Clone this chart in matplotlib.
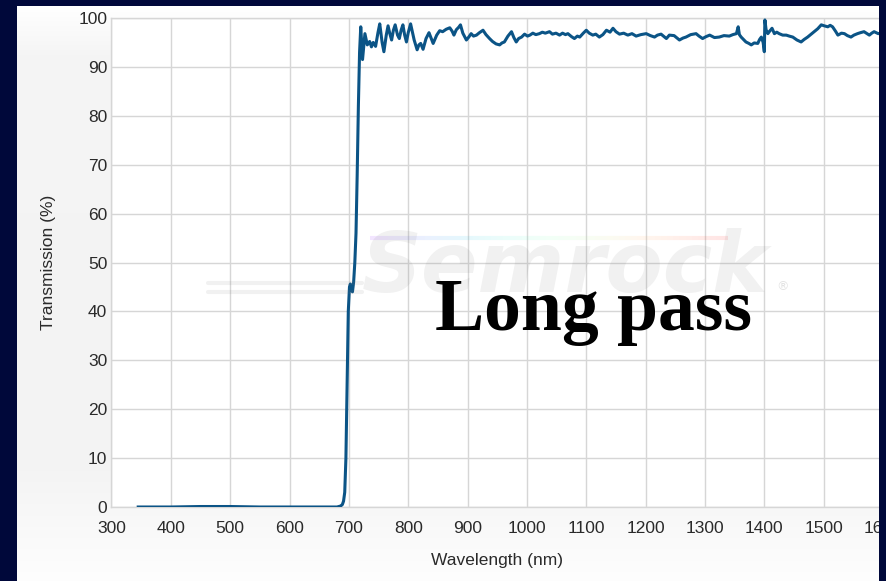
import numpy as np
import matplotlib
matplotlib.use("Agg")
import matplotlib.pyplot as plt
from matplotlib.patches import Rectangle
from matplotlib.collections import LineCollection

# Long-pass filter transmission spectrum
wavelength_nm = [
    345, 400, 450, 500, 550, 600, 650, 680, 686, 689, 691, 693, 695, 697, 699,
    701, 702.5, 704, 706, 708, 710, 712, 714, 716, 718, 720, 723, 727, 731, 735,
    738, 741, 745, 749, 752, 756, 759, 763, 766, 769, 772, 775, 778, 782, 785,
    788, 791, 794, 797, 800, 804, 810, 815, 818, 821, 825, 830, 835, 842, 848,
    853, 858, 864, 870, 874, 877, 881, 885, 888, 892, 898, 902, 906, 910, 915,
    920, 926, 931, 937, 942, 948, 954, 958, 962, 968, 974, 978, 982, 986, 991,
    996, 1001, 1005, 1010, 1015, 1021, 1026, 1031, 1038, 1043, 1049, 1055, 1060,
    1065, 1069, 1075, 1080, 1085, 1089, 1095, 1100, 1105, 1111, 1116, 1122,
    1128, 1134, 1140, 1145, 1150, 1156, 1163, 1170, 1177, 1184, 1192, 1201,
    1208, 1215, 1220, 1226, 1231, 1235, 1240, 1248, 1257, 1263, 1268, 1276,
    1285, 1290, 1296, 1302, 1308, 1316, 1324, 1332, 1341, 1347, 1353, 1356,
    1358, 1361, 1365, 1369, 1374, 1378, 1383, 1389, 1392, 1395, 1398, 1400,
    1401, 1403, 1406, 1409, 1413, 1417, 1421, 1425, 1431, 1437, 1442, 1448,
    1455, 1462, 1467, 1473, 1478, 1484, 1490, 1496, 1501, 1507, 1511, 1515,
    1520, 1524, 1530, 1535, 1540, 1546, 1551, 1557, 1562, 1568, 1573, 1577,
    1581, 1585, 1592, 1600,
]
transmission_pct = [
    0.0, 0.0, 0.1, 0.1, 0.0, 0.0, 0.0, 0.0, 0.2, 0.5, 1.2, 3.0, 10.0, 25.0, 40.0,
    45.0, 45.6, 44.5, 44.0, 46.0, 50.0, 56.0, 68.0, 82.0, 93.0, 98.2, 91.5, 96.8, 94.5, 95.2,
    94.1, 95.0, 94.2, 97.0, 98.8, 95.0, 93.1, 96.5, 98.4, 96.8, 95.5, 97.5, 98.6, 96.5, 95.8,
    97.5, 98.6, 96.5, 95.1, 97.0, 98.8, 95.5, 93.5, 94.5, 94.8, 93.6, 95.8, 97.0, 94.8, 96.5,
    97.4, 97.2, 97.7, 98.0, 97.3, 96.5, 97.6, 98.1, 98.6, 96.9, 95.5, 96.1, 96.8, 96.3, 96.5,
    97.0, 97.5, 96.6, 95.8, 95.2, 94.7, 94.5, 94.9, 95.1, 96.3, 97.2, 96.0, 95.1, 95.8, 96.1,
    96.7, 96.3, 96.5, 96.9, 96.6, 96.8, 97.1, 96.9, 97.2, 96.7, 96.9, 96.5, 96.9,
    96.6, 96.8, 96.2, 95.8, 96.3, 96.1, 96.9, 97.5, 96.9, 96.5, 96.7, 96.1,
    96.6, 97.5, 97.1, 97.9, 97.2, 96.7, 96.9, 96.5, 96.8, 96.3, 96.6, 96.8,
    96.4, 96.1, 96.5, 96.7, 96.2, 95.8, 96.5, 96.4, 95.5, 95.9, 96.1, 96.6,
    96.8, 96.3, 95.8, 96.2, 96.5, 96.0, 96.1, 96.4, 96.3, 96.6, 96.8, 98.2,
    96.6, 96.1, 95.6, 95.1, 94.8, 94.5, 94.9, 94.8, 95.6, 96.1, 95.0, 93.1,
    99.6, 97.6, 96.8, 97.3, 97.9, 96.8, 97.1, 96.8, 96.5, 96.5, 96.3, 96.1,
    95.5, 95.1, 95.6, 96.1, 96.6, 97.2, 97.8, 98.6, 98.4, 98.2, 98.5, 98.2,
    97.3, 96.5, 96.9, 96.8, 96.4, 96.1, 96.5, 96.8, 97.0, 97.2, 96.8, 96.5,
    96.9, 97.2, 96.8, 97.0,
]

x_ticks = list(range(300, 1601, 100))
y_ticks = list(range(0, 101, 10))

W, H = 886, 581
fig = plt.figure(figsize=(W / 100, H / 100), dpi=100)
fig.patch.set_facecolor("#00083a")

def fx(px):
    return px / W

def fy(py):
    return 1 - py / H

# light panel with a soft vertical gradient
bg = fig.add_axes([fx(17), 0, fx(879 - 17), fy(6)], zorder=-5)
grad = np.interp(np.linspace(0, 1, 300), [0, 0.09, 0.8, 1.0],
                 [1.0, 0.958, 0.955, 0.995])
bg.imshow(np.tile(grad[:, None, None], (1, 2, 3)), aspect="auto",
          extent=[0, 1, 0, 1], interpolation="bilinear")
bg.set_axis_off()

ax = fig.add_axes([fx(111.5), fy(507), fx(883 - 111.5), (507 - 18) / H])
ax.set_facecolor("white")
ax.set_xlim(300, 1600)
ax.set_ylim(0, 100)
ax.set_xticks(x_ticks)
ax.set_yticks(y_ticks)
ax.grid(True, color="#d6d6d6", linewidth=1.0, zorder=0)
ax.set_axisbelow(True)
for s in ax.spines.values():
    s.set_color("#d6d6d6")
    s.set_linewidth(1.0)
ax.tick_params(length=0, colors="#2a2a2a", labelsize=12.5)
ax.tick_params(axis="x", pad=10)
ax.tick_params(axis="y", pad=3)
for lab in ax.get_xticklabels() + ax.get_yticklabels():
    lab.set_fontfamily("Liberation Sans")
ax.set_xlabel("Wavelength (nm)", fontsize=12.5, family="Liberation Sans",
              color="#2a2a2a", labelpad=12)
ax.set_ylabel("Transmission (%)", fontsize=12.5, family="Liberation Sans",
              color="#2a2a2a", labelpad=16)

# faint brand watermark behind the curve
fig.text(fx(362), fy(292), "Semrock", fontsize=60, family="DejaVu Sans",
         weight="bold", style="oblique", color="#808080", alpha=0.11,
         ha="left", va="baseline", zorder=1)
fig.text(fx(776), fy(290), "®", fontsize=9, family="DejaVu Sans",
         color="#808080", alpha=0.22, ha="left", va="baseline", zorder=1)
for yy in (283, 292):
    fig.add_artist(plt.Line2D([fx(208), fx(362)], [fy(yy), fy(yy)],
                              color="#808080", alpha=0.11, linewidth=3,
                              solid_capstyle="round", zorder=1))
xs = np.linspace(fx(370), fx(728), 60)
segs = [[(xs[i], fy(238)), (xs[i + 1], fy(238))] for i in range(len(xs) - 1)]
cols = plt.cm.rainbow(np.linspace(0, 1, len(segs)))
cols[:, 3] = 0.10
fig.add_artist(LineCollection(segs, colors=cols, linewidths=3,
                              transform=fig.transFigure, zorder=1))

ax.plot(wavelength_nm, transmission_pct, color="#0b5486", linewidth=2.2,
        zorder=3, solid_joinstyle="round")

fig.text(fx(435), fy(330), "Long pass", fontsize=53, family="Liberation Serif",
         weight="bold", color="black", ha="left", va="baseline", zorder=20)

# dark frame on the left, top and right edges
for x0, y0, w, h in [(0, 0, fx(17), 1), (0, fy(6), 1, 1 - fy(6)),
                     (fx(879), 0, 1 - fx(879), 1)]:
    fig.add_artist(Rectangle((x0, y0), w, h, transform=fig.transFigure,
                             facecolor="#00083a", edgecolor="none", zorder=30))

fig.savefig("out.png", dpi=100)
